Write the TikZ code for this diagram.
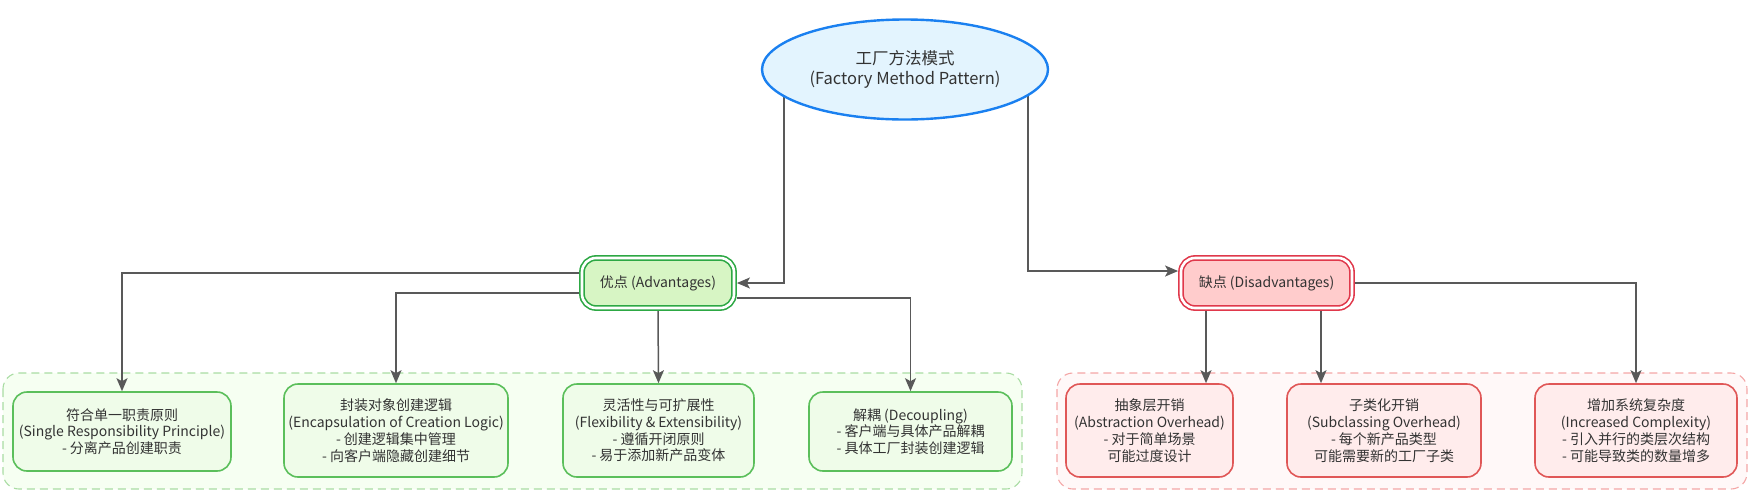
\documentclass[tikz,border=0pt]{standalone}
\usepackage{fontspec}
\setmainfont{Noto Sans CJK SC}
\usepackage{tikz}
\usepackage{xcolor}
\usetikzlibrary{shapes.geometric, positioning, arrows.meta, backgrounds}

\definecolor{linegray}{HTML}{595959}
\definecolor{txtgray}{HTML}{333333}
\definecolor{rootfill}{HTML}{E3F4FE}
\definecolor{rootdraw}{HTML}{1A80F0}
\definecolor{advfill}{HTML}{D7F5C4}
\definecolor{advdraw}{HTML}{2DA844}
\definecolor{disfill}{HTML}{FFCCCC}
\definecolor{disdraw}{HTML}{E0384B}
\definecolor{gboxfill}{HTML}{EFFCE9}
\definecolor{gboxdraw}{HTML}{5BBF5B}
\definecolor{rboxfill}{HTML}{FFECEC}
\definecolor{rboxdraw}{HTML}{E05757}
\definecolor{gareafill}{HTML}{F6FFF2}
\definecolor{gareadraw}{HTML}{A9DCA3}
\definecolor{rareafill}{HTML}{FFF8F8}
\definecolor{rareadraw}{HTML}{F4A6A6}

\tikzset{
    txt/.style={font=\fontsize{14}{16.8}\selectfont, text=txtgray, align=center, inner sep=0pt},
    conn/.style={draw=linegray, line width=1.5pt, -{Stealth[length=13pt, width=11pt, inset=3pt]}},
    headbox/.style={txt, rounded corners=14pt, line width=1.6pt, double=white, double distance=2.6pt, outer sep=2.9pt},
    gbox/.style={txt, rounded corners=14pt, draw=gboxdraw, fill=gboxfill, line width=1.6pt},
    rbox/.style={txt, rounded corners=14pt, draw=rboxdraw, fill=rboxfill, line width=1.6pt},
    area/.style={rounded corners=16pt, line width=1.1pt, dash pattern=on 8pt off 5pt}
}

\begin{document}
\begin{tikzpicture}[x=1pt, y=-1pt]
    \useasboundingbox (0, 0) rectangle (1751, 491);

    % root
    \node[txt, ellipse, draw=rootdraw, fill=rootfill, line width=2.4pt,
        minimum width=286, minimum height=100, font=\fontsize{16.5}{20}\selectfont] (root) at (905, 69.5)
        {工厂方法模式\\(Factory Method Pattern)};

    % advantages / disadvantages
    \node[headbox, draw=advdraw, fill=advfill, minimum width=152, minimum height=50] (adv) at (658, 283)
        {优点 (Advantages)};
    \node[headbox, draw=disdraw, fill=disfill, minimum width=171, minimum height=50] (dis) at (1266.5, 283)
        {缺点 (Disadvantages)};

    % advantage items
    \node[gbox, minimum width=218, minimum height=79] (srp) at (122, 431.5)
        {符合单一职责原则\\(Single Responsibility Principle)\\- 分离产品创建职责};
    \node[gbox, minimum width=224, minimum height=93] (encap) at (396, 430.5)
        {封装对象创建逻辑\\(Encapsulation of Creation Logic)\\- 创建逻辑集中管理\\- 向客户端隐藏创建细节};
    \node[gbox, minimum width=191, minimum height=93] (flex) at (658.5, 430.5)
        {灵活性与可扩展性\\(Flexibility \& Extensibility)\\- 遵循开闭原则\\- 易于添加新产品变体};
    \node[gbox, minimum width=203, minimum height=79] (decoup) at (910.5, 431.5)
        {解耦 (Decoupling)\\- 客户端与具体产品解耦\\- 具体工厂封装创建逻辑};

    % disadvantage items
    \node[rbox, minimum width=167, minimum height=93] (abstr) at (1149.5, 430.5)
        {抽象层开销\\(Abstraction Overhead)\\- 对于简单场景\\可能过度设计};
    \node[rbox, minimum width=194, minimum height=93] (subcl) at (1384, 430.5)
        {子类化开销\\(Subclassing Overhead)\\- 每个新产品类型\\可能需要新的工厂子类};
    \node[rbox, minimum width=202, minimum height=93] (cmplx) at (1636, 430.5)
        {增加系统复杂度\\(Increased Complexity)\\- 引入并行的类层次结构\\- 可能导致类的数量增多};

    \begin{scope}[on background layer]
        % group areas
        \draw[area, draw=gareadraw, fill=gareafill] (3, 373) rectangle (1022, 489);
        \draw[area, draw=rareadraw, fill=rareafill] (1057, 373) rectangle (1747, 489);

        % root to the two groups
        \draw[conn] ([xshift=-121pt]root.center) |- (adv.east);
        \draw[conn] ([xshift=123pt]root.center) |- ([yshift=12pt]dis.west);

        % advantages
        \draw[conn] ([yshift=10pt]adv.west) -| (srp.north);
        \draw[conn] ([yshift=-10pt]adv.west) -| (encap.north);
        \draw[conn] (adv.south) -- (flex.north);
        \draw[conn] ([yshift=-15pt]adv.east) -| (decoup.north);

        % disadvantages
        \draw[conn] ([xshift=-60.5pt]dis.south) -- ([xshift=-60.5pt]dis.south |- abstr.north);
        \draw[conn] ([xshift=54.5pt]dis.south) -- ([xshift=54.5pt]dis.south |- subcl.north);
        \draw[conn] (dis.east) -| (cmplx.north);
    \end{scope}
\end{tikzpicture}
\end{document}
